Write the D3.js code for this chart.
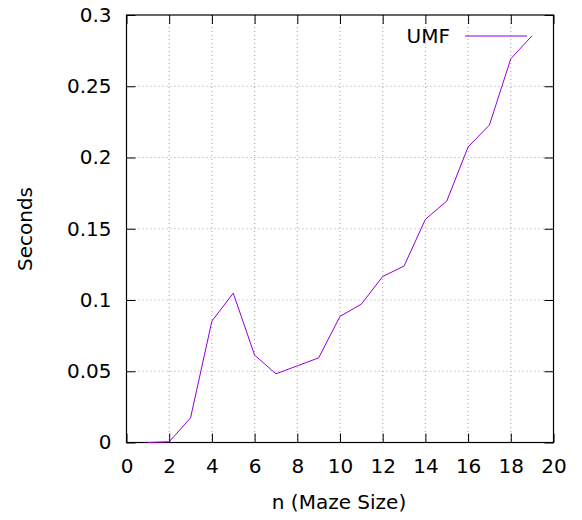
<!DOCTYPE html>
<html>
<head>
<meta charset="utf-8">
<script src="https://cdn.jsdelivr.net/npm/d3@7"></script>
<style>
body { margin: 0; background: #fff; }
text { font-family: "DejaVu Sans", sans-serif; }
</style>
</head>
<body>
<svg id="chart" width="582" height="520"></svg>
<script>
const mazeSize = [1, 2, 3, 4, 5, 6, 7, 8, 9, 10, 11, 12, 13, 14, 15, 16, 17, 18, 19];
const umfSeconds = [0.0, 0.0005, 0.0173, 0.0852, 0.1048, 0.0613, 0.0482, 0.0538, 0.0594, 0.0885, 0.0971, 0.1165, 0.1238, 0.1566, 0.1694, 0.2074, 0.2228, 0.2693, 0.2855];
const xTicks = [0, 2, 4, 6, 8, 10, 12, 14, 16, 18, 20];
const yTicks = [0, 0.05, 0.1, 0.15, 0.2, 0.25, 0.3];
const yTickLabels = ["0", "0.05", "0.1", "0.15", "0.2", "0.25", "0.3"];
const seriesName = "UMF";
const xTitle = "n (Maze Size)";
const yTitle = "Seconds";

(function () {
const svg = d3.select("#chart");
const pL = 126.5, pR = 553.5, pT = 15, pB = 442.5;
const x = d3.scaleLinear().domain([0, 20]).range([pL, pR]);
const y = d3.scaleLinear().domain([0, 0.3]).range([pB, pT]);
const tickLen = 9;
const fs = 20;

// grid
const grid = svg.append("g").attr("stroke", "#a0a0a0").attr("stroke-width", 1).attr("stroke-dasharray", "1,3");
xTicks.slice(1, -1).forEach(t => {
  grid.append("line").attr("x1", x(t)).attr("x2", x(t)).attr("y1", pT).attr("y2", pB);
});
yTicks.slice(1, -1).forEach(t => {
  grid.append("line").attr("x1", pL).attr("x2", pR).attr("y1", y(t)).attr("y2", y(t));
});

// axes with inward ticks
const axB = d3.axisBottom(x).tickValues(xTicks).tickSize(-tickLen).tickPadding(16).tickFormat(d3.format("d"));
const axT = d3.axisTop(x).tickValues(xTicks).tickSize(-tickLen).tickFormat("");
const axL = d3.axisLeft(y).tickValues(yTicks).tickSize(-tickLen).tickPadding(15).tickFormat((d, i) => yTickLabels[i]);
const axR = d3.axisRight(y).tickValues(yTicks).tickSize(-tickLen).tickFormat("");

function styleAxis(g) {
  g.select(".domain").remove();
  g.selectAll(".tick line").attr("stroke", "#000").attr("stroke-width", 1);
  g.selectAll(".tick text").attr("font-family", "DejaVu Sans, sans-serif").attr("font-size", fs).attr("fill", "#000");
}
svg.append("g").attr("transform", `translate(0,${pB})`).call(axB).call(styleAxis);
svg.append("g").attr("transform", `translate(0,${pT})`).call(axT).call(styleAxis);
svg.append("g").attr("transform", `translate(${pL},0)`).call(axL).call(styleAxis);
svg.append("g").attr("transform", `translate(${pR},0)`).call(axR).call(styleAxis);

// border
svg.append("rect").attr("x", pL).attr("y", pT).attr("width", pR - pL).attr("height", pB - pT)
  .attr("fill", "none").attr("stroke", "#000").attr("stroke-width", 1.2);

// line
const line = d3.line().x((d, i) => x(mazeSize[i])).y(d => y(d));
svg.append("path").datum(umfSeconds).attr("d", line).attr("fill", "none")
  .attr("stroke", "#9400d3").attr("stroke-width", 1);

// legend
const ly = 36;
svg.append("text").attr("x", 450).attr("y", ly).attr("dy", "0.35em").attr("text-anchor", "end")
  .attr("font-size", fs).attr("fill", "#000").text(seriesName);
svg.append("line").attr("x1", 465).attr("x2", 527).attr("y1", ly).attr("y2", ly)
  .attr("stroke", "#9400d3").attr("stroke-width", 1);

// titles
svg.append("text").attr("x", 339).attr("y", 509).attr("text-anchor", "middle")
  .attr("font-size", fs).attr("fill", "#000").text(xTitle);
svg.append("text").attr("transform", `translate(31.5,229) rotate(-90)`).attr("text-anchor", "middle")
  .attr("font-size", fs).attr("fill", "#000").text(yTitle);
})();
</script>
</body>
</html>
